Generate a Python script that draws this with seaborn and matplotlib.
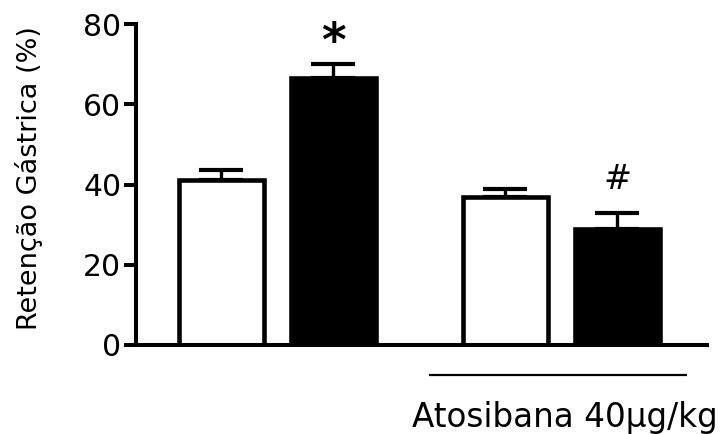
import matplotlib
matplotlib.use("Agg")
import matplotlib.pyplot as plt
import numpy as np
import pandas as pd
import seaborn as sns

# Bar positions (two groups of two bars) and their values
positions = [0.0, 1.0, 2.54, 3.54]
conditions = ["controle", "tratado", "controle", "tratado"]
retention = [41.0, 66.6, 36.8, 28.8]
sem = [2.5, 3.5, 2.0, 4.0]
marks = ["", "*", "", "#"]
y_ticks = [0, 20, 40, 60, 80]
y_label = "Retenção Gástrica (%)"
group_label = "Atosibana 40μg/kg"

sns.set_style("ticks")
plt.rcParams["font.family"] = ["DejaVu Sans"]
plt.rcParams["text.color"] = "black"
plt.rcParams["axes.labelcolor"] = "black"

df = pd.DataFrame({"pos": positions, "cond": conditions, "value": retention})

fig = plt.figure(figsize=(7.25, 4.34), dpi=100)
ax = fig.add_axes([136 / 725, 89 / 434, 571 / 725, 321 / 434])

sns.barplot(data=df, x="pos", y="value", hue="cond",
            palette={"controle": "white", "tratado": "black"},
            native_scale=True, dodge=False, width=0.76,
            edgecolor="black", linewidth=3.3, errorbar=None,
            legend=False, ax=ax)

# Upper-only SEM bars
ax.errorbar(positions, retention, yerr=[np.zeros(len(sem)), sem], fmt="none",
            ecolor="black", elinewidth=2.4, capsize=16, capthick=3.0, zorder=0.5)

# Significance marks
for x, v, s, m in zip(positions, retention, sem, marks):
    if m == "*":
        ax.text(x, 72.0, m, ha="center", va="baseline", fontsize=34,
                fontweight="bold", color="black", clip_on=False)
    elif m == "#":
        ax.text(x, 38.9, m, ha="center", va="baseline", fontsize=24,
                color="black", clip_on=False)

ax.set_xlim(-0.76, 4.34)
ax.set_ylim(0, 80)
ax.set_yticks(y_ticks)
ax.set_xticks([])
ax.set_xlabel("")
ax.set_ylabel(y_label, fontsize=19.5, color="black")
ax.yaxis.set_label_coords(-0.163, 0.52)

for side in ["top", "right"]:
    ax.spines[side].set_visible(False)
for side in ["left", "bottom"]:
    ax.spines[side].set_linewidth(2.9)
    ax.spines[side].set_color("black")
ax.tick_params(axis="y", length=8.6, width=2.9, labelsize=21.5, pad=2,
               color="black", labelcolor="black")

# Treatment bar under the second group
ax.plot([1.855, 4.16], [-7.5, -7.5], color="black", lw=1.6, clip_on=False,
        solid_capstyle="butt")
ax.text(3.07, -20.4, group_label, ha="center", va="baseline", fontsize=23.5,
        color="black", clip_on=False)

fig.savefig("out.png", dpi=100)
